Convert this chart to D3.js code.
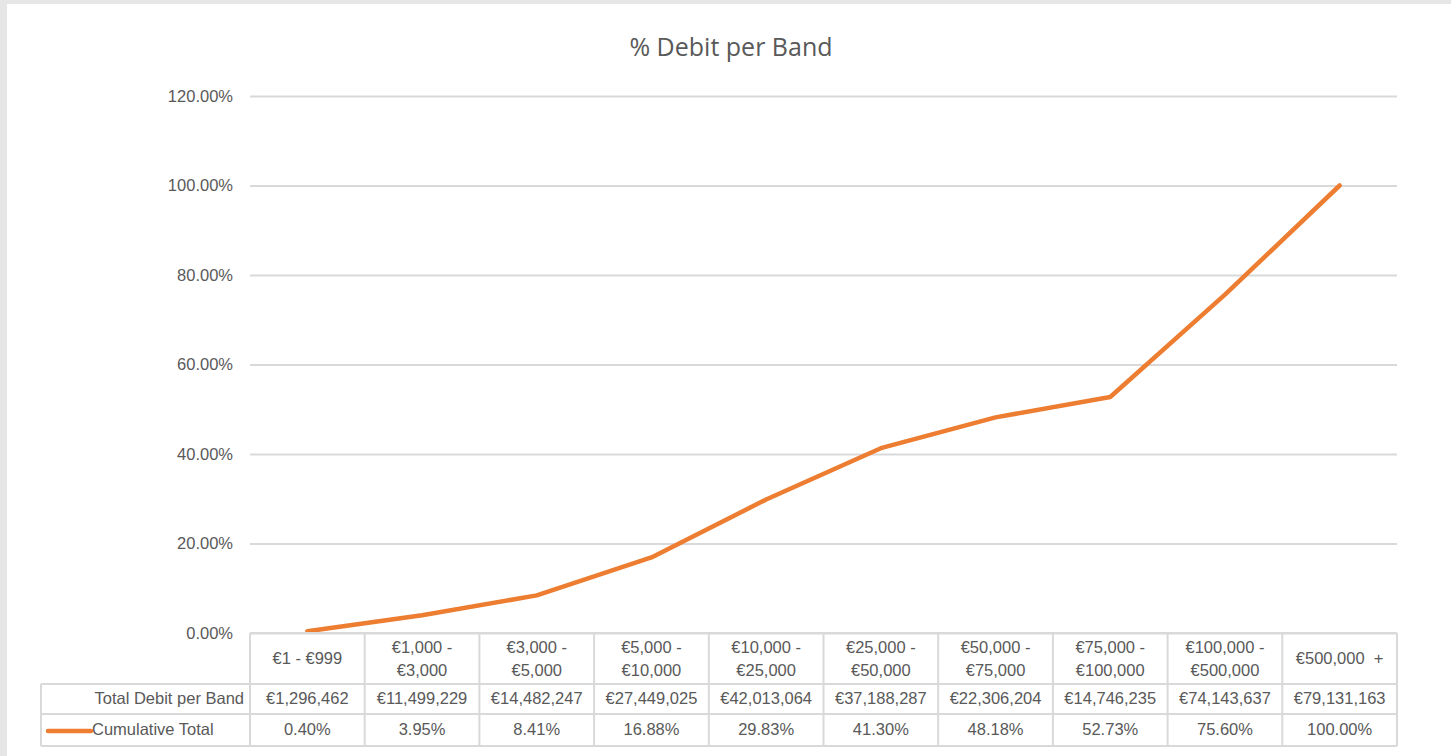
<!DOCTYPE html>
<html>
<head>
<meta charset="utf-8">
<script src="https://cdn.jsdelivr.net/npm/d3@7"></script>
<style>
  body { margin: 0; background: #e6e6e6; }
  svg { display: block; }
</style>
</head>
<body>
<div id="chart"></div>
<script>
// Chart data
var bands = [
  ["€1 - €999"],
  ["€1,000 -", "€3,000"],
  ["€3,000 -", "€5,000"],
  ["€5,000 -", "€10,000"],
  ["€10,000 -", "€25,000"],
  ["€25,000 -", "€50,000"],
  ["€50,000 -", "€75,000"],
  ["€75,000 -", "€100,000"],
  ["€100,000 -", "€500,000"],
  ["€500,000  +"]
];
var totalDebit = ["€1,296,462", "€11,499,229", "€14,482,247", "€27,449,025", "€42,013,064",
  "€37,188,287", "€22,306,204", "€14,746,235", "€74,143,637", "€79,131,163"];
var cumulative = [0.40, 3.95, 8.41, 16.88, 29.83, 41.30, 48.18, 52.73, 75.60, 100.00];
var yTicks = [0, 20, 40, 60, 80, 100, 120];

var svgWidth = 1451;
var svgHeight = 756;

var margin = { top: 96, right: 54, bottom: 123, left: 250 };
var chartWidth = svgWidth - margin.left - margin.right;
var chartHeight = svgHeight - margin.top - margin.bottom;

var textColor = "#595959";
var gridColor = "#d9d9d9";
var lineColor = "#ed7d31";
var tableFont = "'Liberation Sans', Arial, sans-serif";

var svg = d3.select("#chart")
  .append("svg")
  .attr("width", svgWidth)
  .attr("height", svgHeight);

// white chart area
svg.append("rect")
  .attr("x", 7)
  .attr("y", 4)
  .attr("width", svgWidth - 7)
  .attr("height", svgHeight - 4)
  .attr("fill", "#ffffff");

// title
svg.append("text")
  .attr("x", 731)
  .attr("y", 56)
  .attr("text-anchor", "middle")
  .attr("fill", textColor)
  .style("font-family", "'Open Sans', 'Noto Sans', sans-serif")
  .style("font-size", "25px")
  .text("% Debit per Band");

var chartGroup = svg.append("g")
  .attr("transform", `translate(${margin.left}, ${margin.top})`);

// scales
var xScale = d3.scaleBand()
  .domain(d3.range(bands.length))
  .range([0, chartWidth]);

var yScale = d3.scaleLinear()
  .domain([0, 120])
  .range([chartHeight, 0]);

// gridlines + y axis labels
var leftAxis = d3.axisLeft(yScale)
  .tickValues(yTicks)
  .tickSize(-chartWidth)
  .tickPadding(17)
  .tickFormat(d => d.toFixed(2) + "%");

var yAxis = chartGroup.append("g").call(leftAxis);
yAxis.select(".domain").remove();
yAxis.selectAll(".tick line")
  .attr("stroke", gridColor)
  .attr("stroke-width", 2);
yAxis.selectAll(".tick text")
  .attr("fill", textColor)
  .style("font-family", tableFont)
  .style("font-size", "16.5px");

// line
var line = d3.line()
  .x((d, i) => xScale(i) + xScale.bandwidth() / 2)
  .y(d => yScale(d));

chartGroup.append("path")
  .datum(cumulative)
  .attr("fill", "none")
  .attr("stroke", lineColor)
  .attr("stroke-width", 4.5)
  .attr("stroke-linecap", "round")
  .attr("stroke-linejoin", "round")
  .attr("d", line);

// data table
var rowTops = [chartHeight, chartHeight + 51, chartHeight + 81, chartHeight + 113];
var tableLeft = 41 - margin.left;
var table = chartGroup.append("g");

// horizontal lines
table.append("line")
  .attr("x1", 0).attr("x2", chartWidth)
  .attr("y1", rowTops[0]).attr("y2", rowTops[0]);
[1, 2, 3].forEach(function(r) {
  table.append("line")
    .attr("x1", tableLeft).attr("x2", chartWidth)
    .attr("y1", rowTops[r]).attr("y2", rowTops[r]);
});
// vertical lines
d3.range(bands.length + 1).forEach(function(i) {
  var x = i < bands.length ? xScale(i) : chartWidth;
  table.append("line")
    .attr("x1", x).attr("x2", x)
    .attr("y1", rowTops[0]).attr("y2", rowTops[3]);
});
table.append("line")
  .attr("x1", tableLeft).attr("x2", tableLeft)
  .attr("y1", rowTops[1]).attr("y2", rowTops[3]);
table.selectAll("line")
  .attr("stroke", gridColor)
  .attr("stroke-width", 2);

function cellText(x, y, txt, anchor) {
  return table.append("text")
    .attr("x", x)
    .attr("y", y)
    .attr("text-anchor", anchor || "middle")
    .attr("dominant-baseline", "middle")
    .attr("fill", textColor)
    .style("font-family", tableFont)
    .style("font-size", "16.5px")
    .style("white-space", "pre")
    .text(txt);
}

// category header row
bands.forEach(function(lines, i) {
  var cx = xScale(i) + xScale.bandwidth() / 2;
  var mid = (rowTops[0] + rowTops[1]) / 2 + 1;
  if (lines.length === 1) {
    cellText(cx, mid, lines[0]);
  } else {
    cellText(cx, mid - 11, lines[0]);
    cellText(cx, mid + 12, lines[1]);
  }
});

// totals row
cellText(-6, (rowTops[1] + rowTops[2]) / 2 + 1, "Total Debit per Band", "end");
totalDebit.forEach(function(v, i) {
  cellText(xScale(i) + xScale.bandwidth() / 2, (rowTops[1] + rowTops[2]) / 2 + 1, v);
});

// cumulative row with legend key
var r3 = (rowTops[2] + rowTops[3]) / 2 + 1;
table.append("line")
  .attr("x1", tableLeft + 7).attr("x2", tableLeft + 50)
  .attr("y1", r3).attr("y2", r3)
  .attr("stroke", lineColor)
  .attr("stroke-width", 4.5)
  .attr("stroke-linecap", "round");
cellText(tableLeft + 51, r3, "Cumulative Total", "start");
cumulative.forEach(function(v, i) {
  cellText(xScale(i) + xScale.bandwidth() / 2, r3, v.toFixed(2) + "%");
});
</script>
</body>
</html>
